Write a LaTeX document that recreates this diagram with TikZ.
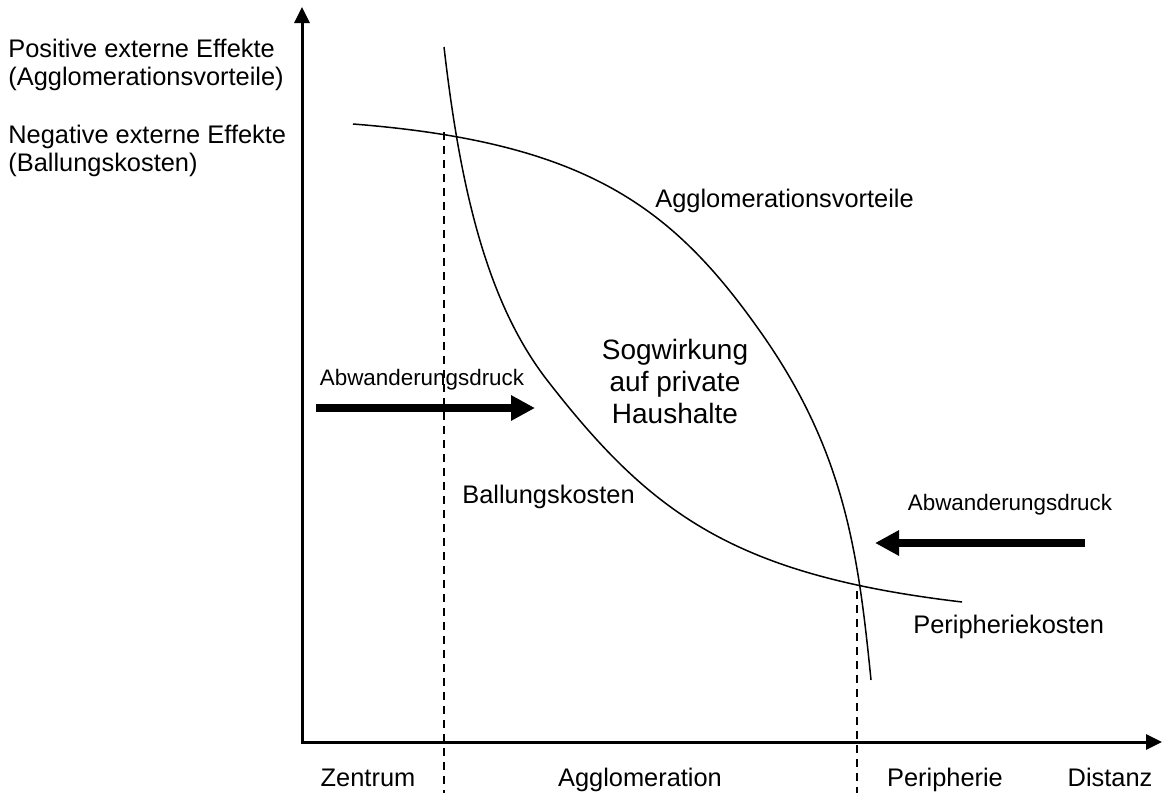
\documentclass[tikz,border=0pt]{standalone}
\usepackage{fontspec}
\setmainfont{Liberation Sans}
\usetikzlibrary{arrows.meta}
\tikzset{
	lbl/.style={inner sep=0pt, font=\fontsize{12.7}{14}\selectfont},
	smalllbl/.style={inner sep=0pt, font=\fontsize{11.2}{13}\selectfont},
	biglbl/.style={inner sep=0pt, align=center, font=\fontsize{14}{16}\selectfont},
	curve/.style={line width=0.75pt},
	axis/.style={line width=1.5pt, {Triangle[length=8pt,width=7.5pt]}-{Triangle[length=8pt,width=7.5pt]}},
	push/.style={line width=4pt, -{Triangle[length=12pt,width=12pt]}},
	border/.style={line width=0.7pt, dash pattern=on 4pt off 3pt},
}
\begin{document}
\begin{tikzpicture}[x=0.5pt,y=-0.5pt]
	\useasboundingbox (0,0) rectangle (1162,793);
	% axes
	\coordinate (o) at (302,742);
	\coordinate (ytop) at (302,7);
	\coordinate (xend) at (1162,742);
	\draw [axis] (ytop) -- (o) -- (xend);
	% borders of the zones
	\coordinate (cut1) at (444,132);
	\coordinate (foot1) at (444,793);
	\coordinate (cut2) at (857,591);
	\coordinate (foot2) at (857,793);
	\draw [border] (cut1) -- (foot1);
	\draw [border] (cut2) -- (foot2);
	% curves
	\draw [curve] (353,124) .. controls (583,142) and (670,205) .. (757,327)
		.. controls (844,448) and (858,550) .. (871,680);
	\draw [curve] (444,47) .. controls (460,186) and (486,301) .. (547,380)
		.. controls (651,514) and (734,575) .. (962,602);
	% pressure arrows
	\coordinate (pl1) at (316,408);
	\coordinate (pl2) at (535,408);
	\coordinate (pr1) at (1085,543);
	\coordinate (pr2) at (875,543);
	\draw [push] (pl1) -- (pl2);
	\draw [push] (pr1) -- (pr2);
	% labels
	\node [lbl, anchor=base west, align=left] (pos) at (8,85) {Positive externe Effekte\\(Agglomerationsvorteile)};
	\node [lbl, anchor=base west, align=left] (neg) at (8,171) {Negative externe Effekte\\(Ballungskosten)};
	\node [smalllbl, anchor=base] (abwl) at (422,385) {Abwanderungsdruck};
	\node [smalllbl, anchor=base] (abwr) at (1010,510) {Abwanderungsdruck};
	\node [lbl, anchor=base west] (vort) at (655,207) {Agglomerationsvorteile};
	\node [lbl, anchor=base west] (ball) at (462,503) {Ballungskosten};
	\node [lbl, anchor=base west] (perk) at (913,633) {Peripheriekosten};
	\node [biglbl, anchor=base] (sog) at (675,423) {Sogwirkung\\auf private\\Haushalte};
	\node [lbl, anchor=base] (zen) at (368,786) {Zentrum};
	\node [lbl, anchor=base] (agg) at (640,786) {Agglomeration};
	\node [lbl, anchor=base] (per) at (945,786) {Peripherie};
	\node [lbl, anchor=base] (dis) at (1110,786) {Distanz};
\end{tikzpicture}
\end{document}
